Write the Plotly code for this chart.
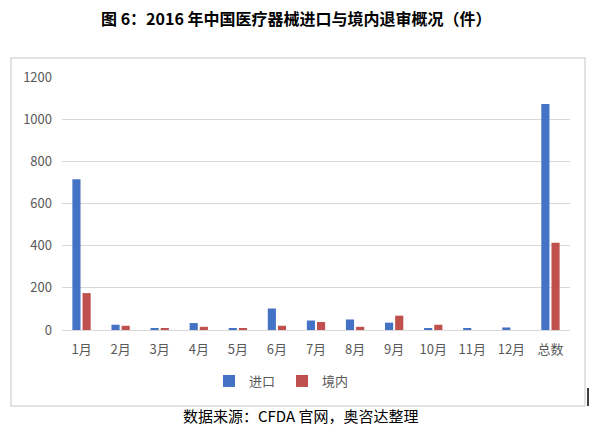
import plotly.graph_objects as go

categories = ["1月", "2月", "3月", "4月", "5月", "6月", "7月", "8月", "9月", "10月", "11月", "12月", "总数"]
imports = [715, 25, 8, 33, 5, 102, 45, 50, 35, 8, 8, 12, 1072]
domestic = [175, 20, 5, 15, 5, 20, 38, 15, 68, 25, 0, 0, 414]
series_names = ["进口", "境内"]
colors = ["#4472C4", "#C0504D"]
y_ticks = [0, 200, 400, 600, 800, 1000, 1200]

W, H = 593, 434
L, R, T, B = 62, 570, 77, 330

def px(x):
    return (x - L) / (R - L)

def py(y):
    return (B - y) / (B - T)

fig = go.Figure()
for name, vals, c in zip(series_names, [imports, domestic], colors):
    fig.add_trace(go.Bar(x=categories, y=vals, name=name, marker=dict(color=c, line=dict(width=0))))

fig.update_layout(
    width=W, height=H,
    margin=dict(l=L, r=W - R, t=T, b=H - B),
    paper_bgcolor="white", plot_bgcolor="white",
    barmode="group", bargap=0.48, bargroupgap=0.2,
    font=dict(family="Noto Sans CJK SC", color="#595959", size=13),
    showlegend=True,
    legend=dict(orientation="h", x=px(282), xanchor="center", y=py(381), yanchor="middle",
                font=dict(size=13, color="#595959"), itemwidth=30, traceorder="normal",
                entrywidth=28, entrywidthmode="pixels"),
    xaxis=dict(showgrid=False, ticks="", showline=False, tickfont=dict(size=13, color="#595959"),
               ticklabelstandoff=10),
    yaxis=dict(range=[0, 1200], tickvals=y_ticks, showgrid=True, gridcolor="#D9D9D9", gridwidth=1,
               zeroline=True, zerolinecolor="#D9D9D9", zerolinewidth=1, showline=False, ticks="",
               tickfont=dict(size=13, color="#595959"), ticklabelstandoff=9),
    annotations=[
        dict(text="<b>图 6：2016 年中国医疗器械进口与境内退审概况（件）</b>", xref="paper", yref="paper",
             x=px(296), y=py(18), xanchor="center", yanchor="middle", showarrow=False,
             font=dict(family="Noto Sans CJK SC", size=16, color="#000000")),
        dict(text="数据来源：CFDA 官网，奥咨达整理", xref="paper", yref="paper",
             x=px(301), y=py(415), xanchor="center", yanchor="middle", showarrow=False,
             font=dict(family="Noto Sans CJK SC", size=15, color="#000000")),
    ],
    shapes=[
        dict(type="rect", xref="paper", yref="paper", x0=px(11), x1=px(585), y0=py(406), y1=py(58),
             line=dict(color="#D9D9D9", width=1.5), layer="below"),
        dict(type="line", xref="paper", yref="paper", x0=px(588), x1=px(588), y0=py(388), y1=py(406),
             line=dict(color="#000000", width=1.5)),
    ],
)

fig.write_html("out.html", config={"displayModeBar": False},
               post_script="document.body.style.margin='0';document.body.style.overflow='hidden';")
